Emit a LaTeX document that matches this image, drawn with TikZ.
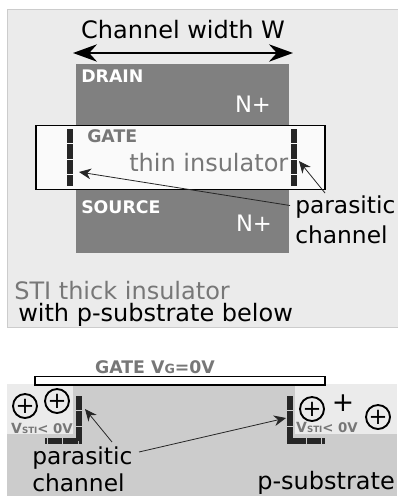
\documentclass[tikz,border=0pt]{standalone}
\usepackage{fontspec}
\setmainfont{DejaVu Sans}
\usetikzlibrary{arrows.meta}
\definecolor{stigray}{HTML}{EBEBEB}
\definecolor{nplusgray}{HTML}{808080}
\definecolor{subgray}{HTML}{CCCCCC}
\definecolor{labelgray}{HTML}{777777}
\tikzset{
    bodytext/.style={font=\fontsize{18}{20}\selectfont, inner sep=0pt},
    calltext/.style={font=\fontsize{17.5}{20}\selectfont, inner sep=0pt},
    nplustext/.style={font=\fontsize{17}{20}\selectfont, text=white, inner sep=0pt},
    tagtext/.style={font=\fontsize{13}{15}\selectfont\bfseries, inner sep=0pt},
    vstitext/.style={font=\fontsize{10.5}{11}\selectfont\bfseries, text=labelgray, inner sep=0pt},
    charge/.style={circle, draw, line width=1.4pt, minimum size=18pt, inner sep=0pt, font=\fontsize{17}{17}\selectfont},
    chan/.style={line width=3.8pt, dash pattern=on 10.6pt off 1pt, black!85},
    pointer/.style={-{Stealth[length=9pt,width=8pt]}, semithick, black!85},
}
\begin{document}
\begin{tikzpicture}[x=0.75pt, y=-0.75pt]
    \useasboundingbox (0,0) rectangle (397,496);

    % top view
    \draw[black!20, fill=stigray] (7,9) rectangle (400,327);
    \fill[nplusgray] (76,64) rectangle (289,125);
    \fill[nplusgray] (76,190) rectangle (289,253);
    \draw[line width=1.4pt, fill=white!98!black] (36,125.5) rectangle (325,189.5);

    \coordinate (widthL) at (73,53);
    \coordinate (widthR) at (293,53);
    \draw[{Stealth[length=18pt,width=13pt]}-{Stealth[length=18pt,width=13pt]}, line width=1.4pt] (widthL) -- (widthR);
    \node[bodytext] (width) at (183,30) {Channel width W};

    \node[tagtext, text=white, anchor=west] (drain) at (81,76.5) {DRAIN};
    \node[nplustext] (nplusD) at (253,104) {N+};
    \node[tagtext, text=labelgray, anchor=west] (gate) at (87,136) {GATE};
    \node[bodytext, text=labelgray, anchor=west] (thin) at (129,163) {thin insulator};
    \node[tagtext, text=white, anchor=west] (source) at (81,207.5) {SOURCE};
    \node[nplustext] (nplusS) at (254,223) {N+};
    \node[calltext, anchor=west] (parasiticT) at (295,207) {parasitic};
    \node[calltext, anchor=west] (channelT) at (295,235) {channel};
    \node[bodytext, text=labelgray, anchor=west] (sti) at (14,291) {STI thick insulator};
    \node[bodytext, anchor=west] (substrateT) at (18,315) {with p-substrate below};

    \draw[chan] (70,129) -- (70,186);
    \draw[chan] (294,129) -- (294,186);

    \coordinate (chanTL) at (79,172);
    \coordinate (chanTR) at (299,161);
    \coordinate (bendT) at (290,205.5);
    \coordinate (bendR) at (325,193);
    \draw[pointer] (bendT) -- (chanTL);
    \draw[pointer] (bendR) -- (chanTR);

    % cross section
    \fill[subgray] (7,384) rectangle (397,496);
    \fill[stigray] (7,384) rectangle (73,434);
    \fill[stigray] (295,384) rectangle (397,434);
    \draw[line width=1.2pt, fill=white] (35,376.5) rectangle (325,385);
    \node[tagtext, text=labelgray] (gateV) at (155,367) {GATE V\fontsize{9.5}{10}\selectfont G\fontsize{13}{15}\selectfont =0V};

    \foreach \name/\x/\y in {a/25/406, b/57/401, c/312/409, d/378/417} {
        \node[charge] (q\name) at (\x,\y) {+};
    }
    \node[font=\fontsize{20}{22}\selectfont, inner sep=0pt] (plus) at (343,403) {+};

    \node[vstitext] (vstiL) at (42,428) {V\fontsize{6.5}{8}\selectfont STI\fontsize{10}{11}\selectfont{}< 0V};
    \node[vstitext] (vstiR) at (327,427) {V\fontsize{6.5}{8}\selectfont STI\fontsize{10}{11}\selectfont{}< 0V};

    \draw[chan] (79,396) -- (79,441) -- (45,441);
    \draw[chan] (290,396) -- (290,441) -- (325,441);

    \node[calltext, anchor=west] (parasiticB) at (32,458) {parasitic};
    \node[calltext, anchor=west] (channelB) at (32,483) {channel};
    \node[bodytext, anchor=west] (psub) at (257,483) {p-substrate};

    \coordinate (chanBL) at (85,409);
    \coordinate (chanBR) at (286,418);
    \coordinate (bendL) at (112,442);
    \coordinate (bendB) at (139,452);
    \draw[pointer] (bendL) -- (chanBL);
    \draw[pointer] (bendB) -- (chanBR);
\end{tikzpicture}
\end{document}
